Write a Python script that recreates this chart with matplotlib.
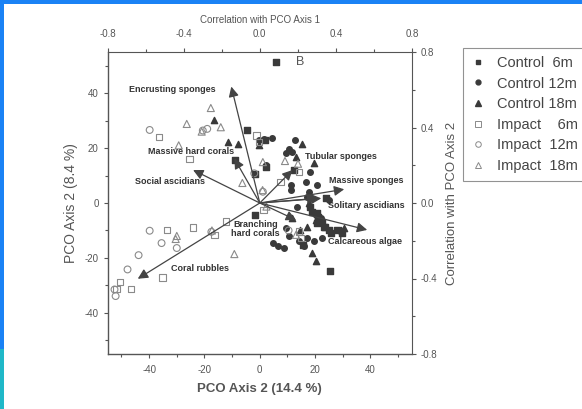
import matplotlib
matplotlib.use("Agg")
import matplotlib.pyplot as plt
from matplotlib.patches import Rectangle
from matplotlib.lines import Line2D

plt.rcParams['font.family'] = ['Liberation Sans', 'DejaVu Sans']

# ---------------- data ----------------
c6_x = [5.8, -9.0, -4.6, 1.8, -1.6, 2.4, -1.6, 12.4, 18.2, 21.0, 22.4, 23.7, 25.7, 29.7, 25.2, 15.7, 20.6,
        19.0, 20.7, 23.2, 25.0, 28.0, 23.9]
c6_y = [51.3, 15.8, 26.6, 23.0, 10.7, 13.0, -4.3, 11.9, -1.3, -5.0, -6.9, -8.7, -11.1, -11.1, -24.8, -15.2, -3.7,
        -3.1, -7.4, -8.6, -9.8, -9.8, 1.7]

c12_x = [4.4, 12.9, 10.4, 9.4, 18.1, 16.6, 11.2, 20.8, 17.8, 17.2, 13.6, 4.6, 6.4, 8.8, 14.2, 16.0,
         17.2, 19.6, 22.4, 10.6, 2.4, 11.8, 22.1, 25.0, 20.3, 1.6, -0.2, 9.4, 11.2]
c12_y = [23.8, 23.1, 19.8, 18.2, 11.3, 7.7, 6.5, 6.5, 4.1, 2.3, -1.3, -14.6, -15.8, -16.4, -14.0, -15.8,
         -12.8, -14.0, -12.9, -12.2, 13.7, 18.7, -5.5, 1.1, -4.3, 23.4, 22.8, -9.2, 4.7]

c18_x = [-16.6, -11.6, -7.9, -0.3, 15.4, 13.1, 19.6, 17.8, 11.8, 20.4, 19.0, 20.3, 29.3, 14.5, 17.1, 30.5]
c18_y = [30.2, 22.2, 21.6, 21.0, 21.4, 16.7, 14.4, 0.1, -5.5, -6.1, -18.2, -21.3, -9.8, -9.8, -8.6, -9.2]

i6_x = [-36.4, -25.4, -1.2, -0.3, 14.2, -33.5, -24.1, -16.3, -12.3, -35.1, -46.5, -50.5, -51.7, 7.4, 14.2, 14.9, 1.3]
i6_y = [24.0, 16.1, 24.6, 22.2, 11.3, -9.8, -8.9, -11.6, -6.7, -27.2, -31.4, -28.8, -31.4, 7.7, -10.4, -12.8, -2.5]

i12_x = [-39.8, -39.8, -35.5, -43.8, -47.8, -52.1, -30.0, -20.6, -19.0, 1.1, 10.4, -52.5, -17.5, -2.0]
i12_y = [26.6, -10.1, -14.6, -19.0, -24.2, -33.9, -16.4, 26.4, 27.0, 4.1, -10.0, -31.5, -10.5, 10.8]

i18_x = [-17.7, -26.4, -29.3, -14.1, -6.3, 1.1, 9.1, 13.8, -30.4, -17.3, -9.2, 2.4, 13.1, -21.0, -30.0, 1.0]
i18_y = [34.6, 28.8, 21.0, 27.6, 7.3, 14.9, 15.3, 14.3, -13.1, -10.0, -18.6, -1.3, -11.6, 26.0, -12.0, 4.7]

group_labels = ["Control  6m", "Control 12m", "Control 18m", "Impact    6m", "Impact  12m", "Impact  18m"]

vec_names = ["Encrusting sponges", "Massive hard corals", "Social ascidians", "Coral rubbles",
             "Branching\nhard corals", "Tubular sponges", "Massive sponges", "Solitary ascidians",
             "Calcareous algae", ""]
vec_x = [-10.3, -9.2, -24.1, -44.1, 13.1, 11.8, 30.5, 22.2, 38.8, 20.8]
vec_y = [42.4, 16.2, 12.0, -27.6, -6.2, 12.0, 5.0, 1.7, -9.8, 1.7]

x_ticks = [-40, -20, 0, 20, 40]
y_ticks = [-40, -20, 0, 20, 40]
corr_ticks = [-0.8, -0.4, 0.0, 0.4, 0.8]

# layout (label placements)
vec_label_pos = [(-31.7, 41.2), (-25.0, 18.6), (-32.4, 7.7), (-21.7, -24.0), (-1.6, -9.5),
                 (29.2, 17.1), (38.6, 8.1), (38.6, -1.0), (37.9, -14.0), (0, 0)]

# ---------------- figure ----------------
W, H = 582, 409
fig = plt.figure(figsize=(W / 100, H / 100), dpi=100)
fig.patch.set_facecolor('white')
# blue frame remnants
fig.patches.append(Rectangle((0, 1 - 4 / H), 1, 4 / H, transform=fig.transFigure,
                             facecolor='#1a82f5', edgecolor='none', zorder=0))
fig.patches.append(Rectangle((0, 0), 4 / W, 1, transform=fig.transFigure,
                             facecolor='#1a82f5', edgecolor='none', zorder=0))
fig.patches.append(Rectangle((0, 0), 4 / W, 60 / H, transform=fig.transFigure,
                             facecolor='#20b8c8', edgecolor='none', zorder=0))

ax = fig.add_axes([107.6 / W, 1 - 354 / H, (412 - 107.6) / W, (354 - 52) / H])
ax.set_xlim(-55, 55)
ax.set_ylim(-55, 55)

grey = '#555555'
dark = '#3a3a3a'
light = '#8a8a8a'
ms = 16

ax.scatter(c6_x, c6_y, marker='s', s=ms, color=dark, zorder=3)
ax.scatter(c12_x, c12_y, marker='o', s=ms, color=dark, zorder=3)
ax.scatter(c18_x, c18_y, marker='^', s=ms + 4, color=dark, zorder=3)
ax.scatter(i6_x, i6_y, marker='s', s=ms + 6, facecolor='none', edgecolor=light, linewidth=0.8, zorder=3)
ax.scatter(i12_x, i12_y, marker='o', s=ms + 8, facecolor='none', edgecolor=light, linewidth=0.8, zorder=3)
ax.scatter(i18_x, i18_y, marker='^', s=ms + 10, facecolor='none', edgecolor=light, linewidth=0.8, zorder=3)

for name, x, y, (lx, ly) in zip(vec_names, vec_x, vec_y, vec_label_pos):
    ax.annotate('', xy=(x, y), xytext=(0, 0),
                arrowprops=dict(arrowstyle='-|>,head_length=0.6,head_width=0.3', color='#444444',
                                lw=0.9, shrinkA=0, shrinkB=0), zorder=4)
    if name:
        ax.text(lx, ly, name, ha='center', va='center', fontsize=6.5, fontweight='bold',
                color='#333333', zorder=5, linespacing=0.95)

ax.text(14.5, 51.3, 'B', ha='center', va='center', fontsize=9, color=grey)

ax.set_xticks(x_ticks)
ax.set_yticks(y_ticks)
ax.set_xticks([-50, -30, -10, 10, 30, 50], minor=True)
ax.set_yticks([-50, -30, -10, 10, 30, 50], minor=True)
ax.set_xticklabels([str(t) for t in x_ticks])
ax.set_yticklabels([str(t) for t in y_ticks])
ax.tick_params(which='both', direction='out', colors=grey, labelsize=7, width=0.8)
ax.tick_params(which='major', length=3)
ax.tick_params(which='minor', length=2)
ax.tick_params(axis='x', pad=5)
for sp in ['left', 'bottom']:
    ax.spines[sp].set_color(grey)
    ax.spines[sp].set_linewidth(1.0)
for sp in ['top', 'right']:
    ax.spines[sp].set_visible(False)

ax.set_xlabel('PCO Axis 2 (14.4 %)', fontsize=9.5, fontweight='bold', color=grey, labelpad=6)
ax.set_ylabel('PCO Axis 2 (8.4 %)', fontsize=10, color=grey, labelpad=5)

f = 0.8 / 55.0
secx = ax.secondary_xaxis('top', functions=(lambda v: v * f, lambda v: v / f))
secy = ax.secondary_yaxis('right', functions=(lambda v: v * f, lambda v: v / f))
for sec in (secx, secy):
    sec.set_ticks(corr_ticks, labels=[f'{t:.1f}' for t in corr_ticks])
    sec.set_ticks([-0.6, -0.2, 0.2, 0.6], minor=True)
    sec.tick_params(which='both', direction='out', colors=grey, labelsize=7, width=0.8)
    sec.tick_params(which='major', length=3)
    sec.tick_params(which='minor', length=2)
secx.tick_params(pad=6)
secx.spines['top'].set_color(grey)
secy.spines['right'].set_color(grey)
secx.set_xlabel('Correlation with PCO Axis 1', fontsize=7, color=grey, labelpad=5)
secy.set_ylabel('Correlation with PCO Axis 2', fontsize=9.5, color=grey, labelpad=6)

handles = [
    Line2D([], [], ls='none', marker='s', ms=3.5, color=dark),
    Line2D([], [], ls='none', marker='o', ms=3.5, color=dark),
    Line2D([], [], ls='none', marker='^', ms=4, color=dark),
    Line2D([], [], ls='none', marker='s', ms=4, mfc='none', mec=light, mew=0.7),
    Line2D([], [], ls='none', marker='o', ms=4, mfc='none', mec=light, mew=0.7),
    Line2D([], [], ls='none', marker='^', ms=4.5, mfc='none', mec=light, mew=0.7),
]
leg = fig.legend(handles, group_labels, loc='upper left', bbox_to_anchor=(463 / W, 1 - 48 / H),
                 frameon=True, fancybox=False, fontsize=10.5, labelspacing=0.45,
                 handlelength=0.9, handletextpad=0.9, borderpad=0.55, borderaxespad=0)
leg.get_frame().set_edgecolor('#777777')
leg.get_frame().set_linewidth(0.8)
for t in leg.get_texts():
    t.set_color('#444444')

fig.savefig('out.png', dpi=100)
